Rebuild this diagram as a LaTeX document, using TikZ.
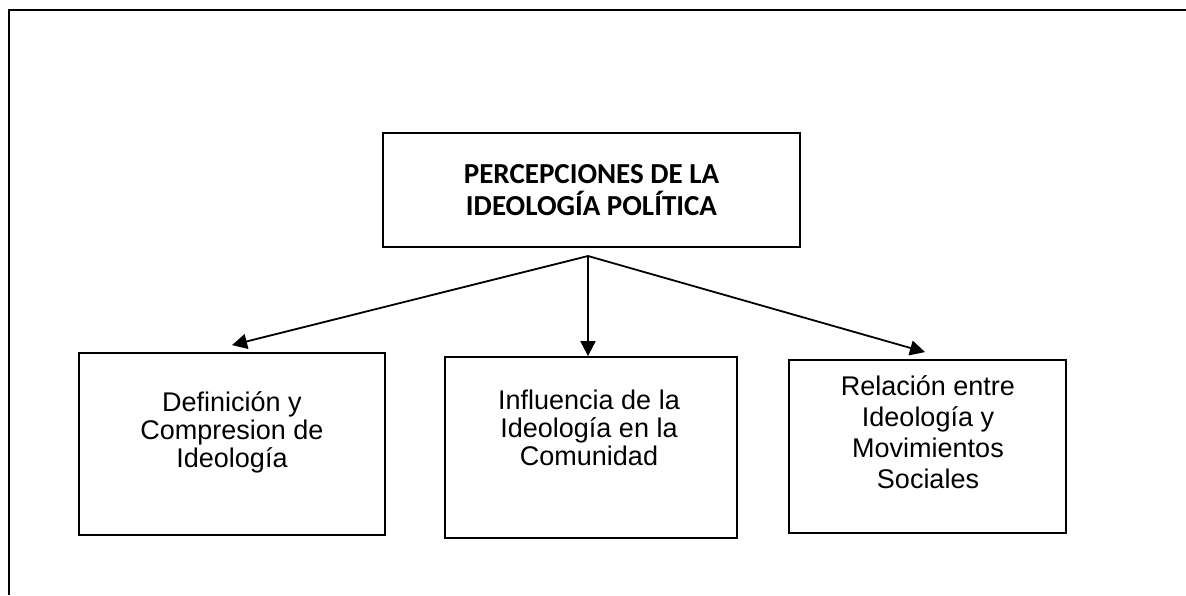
\documentclass[tikz,border=0pt]{standalone}
\usepackage{fontspec}
\setmainfont{Liberation Sans}
\newfontfamily\calibri{Carlito}
\usepackage{xcolor}
\usetikzlibrary{arrows.meta}

\begin{document}
\begin{tikzpicture}[x=1pt, y=-1pt, line width=1.6,
    box/.style={draw, line width=1.8, inner sep=0, minimum width=#1},
    boxtext/.style={align=center, inner sep=0, anchor=base,
        font=\fontsize{27}{28}\selectfont},
    arr/.style={-{Triangle[width=15pt,length=15pt]}, line width=1.8}]
    \useasboundingbox (0,0) rectangle (1186,595);
    \draw (9,595) -- (9,10) -- (1186,10);

    \node[box=417, minimum height=114, align=center,
        font=\calibri\bfseries\fontsize{29}{32}\selectfont] (perc) at (591.5,190)
        {PERCEPCIONES DE LA\\IDEOLOGÍA POLÍTICA};

    \node[box=306, minimum height=182] (def) at (232,444) {};
    \node[box=292, minimum height=181] (infl) at (591,447.5) {};
    \node[box=277, minimum height=173] (rel) at (927.5,446.5) {};

    % base of a text node sits on its last line
    \node[boxtext] (deftext) at (232,467) {Definición y\\Compresion de\\Ideología};
    \node[boxtext] (infltext) at (589,465) {Influencia de la\\Ideología en la\\Comunidad};
    \node[boxtext, font=\fontsize{27}{31}\selectfont] (reltext) at (928,488)
        {Relación entre\\Ideología y\\Movimientos\\Sociales};

    \coordinate (split) at (588,256);
    \draw[arr] (split) -- ([yshift=7pt]def.north);
    \draw[arr] (split) -- (split |- infl.north);
    \draw[arr] (split) -- ([yshift=7pt, xshift=-2.5pt]rel.north);
\end{tikzpicture}
\end{document}
